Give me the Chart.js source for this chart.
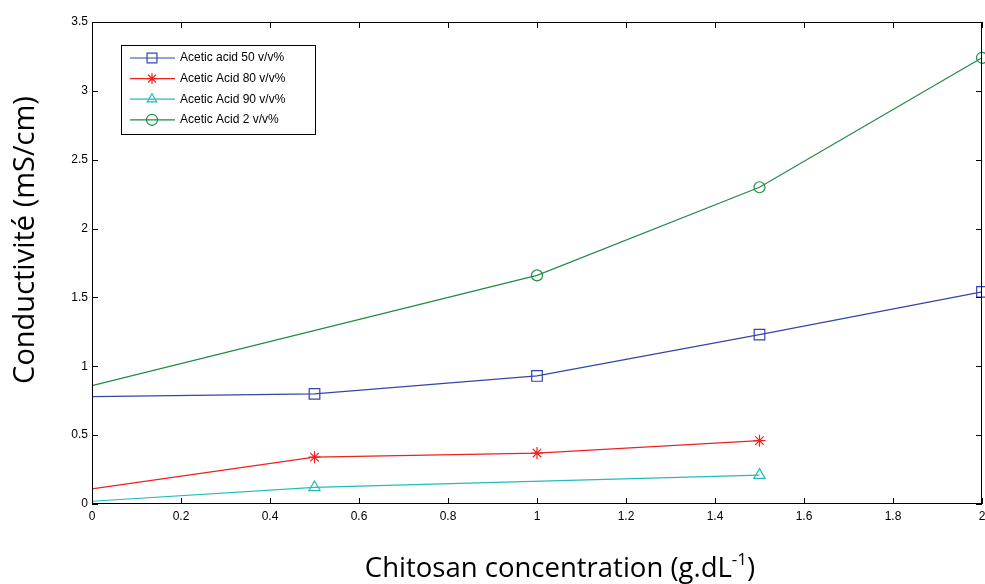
<!DOCTYPE html>
<html>
<head>
<meta charset="utf-8">
<script src="https://cdn.jsdelivr.net/npm/chart.js@4/dist/chart.umd.min.js"></script>
<style>
  html, body { margin: 0; background: #fff; overflow: hidden; }
  #wrap { width: 985px; height: 584px; }
</style>
</head>
<body>
<div id="wrap"><canvas id="c"></canvas></div>
<script>
// tick labels
const xTicks = [0, 0.2, 0.4, 0.6, 0.8, 1, 1.2, 1.4, 1.6, 1.8, 2];
const yTicks = [0, 0.5, 1, 1.5, 2, 2.5, 3, 3.5];

// series (chitosan concentration -> conductivity)
const conc50 = [0, 0.5, 1, 1.5, 2];
const acid50 = [0.78, 0.80, 0.93, 1.23, 1.54];
const conc80 = [0, 0.5, 1, 1.5];
const acid80 = [0.11, 0.34, 0.37, 0.46];
const conc90 = [0, 0.5, 1.5];
const acid90 = [0.02, 0.12, 0.21];
const conc2 = [0, 1, 1.5, 2];
const acid2 = [0.86, 1.66, 2.30, 3.24];

const labels = ["Acetic acid 50 v/v%", "Acetic Acid 80 v/v%", "Acetic Acid 90 v/v%", "Acetic Acid 2 v/v%"];

const pts = (xs, ys) => xs.map((x, i) => ({ x: x, y: ys[i] }));

function series(label, data, color, style, r) {
  return {
    label: label,
    data: data,
    borderColor: color,
    backgroundColor: "rgba(0,0,0,0)",
    borderWidth: 1.2,
    pointStyle: style,
    pointRadius: ctx => (ctx.raw && ctx.raw.x === 0 ? 0 : r),
    pointBorderWidth: 1.2,
    pointBorderColor: color,
    pointBackgroundColor: "rgba(0,0,0,0)",
    tension: 0,
    fill: false,
    clip: false
  };
}

// inward ticks, box, axis titles and legend
const decor = {
  id: "decor",
  afterDatasetsDraw(chart) {
    const { ctx, chartArea: a, scales } = chart;
    ctx.save();
    ctx.strokeStyle = "#000";
    ctx.lineWidth = 1;
    ctx.strokeRect(a.left + 0.5, a.top + 0.5, a.right - a.left - 1, a.bottom - a.top - 1);
    const t = 6;
    ctx.beginPath();
    xTicks.forEach(v => {
      const px = Math.round(scales.x.getPixelForValue(v)) + 0.5;
      ctx.moveTo(px, a.bottom); ctx.lineTo(px, a.bottom - t);
      ctx.moveTo(px, a.top); ctx.lineTo(px, a.top + t);
    });
    yTicks.forEach(v => {
      const py = Math.round(scales.y.getPixelForValue(v)) + 0.5;
      ctx.moveTo(a.left, py); ctx.lineTo(a.left + t, py);
      ctx.moveTo(a.right, py); ctx.lineTo(a.right - t, py);
    });
    ctx.stroke();

    // axis titles
    ctx.fillStyle = "#000";
    ctx.textBaseline = "middle";
    const big = "27.5px 'Open Sans'", small = "17px 'Open Sans'";
    const main = "Chitosan concentration (g.dL";
    const sup = "-1";
    ctx.font = big;
    const w1 = ctx.measureText(main).width;
    const w3 = ctx.measureText(")").width;
    ctx.font = small;
    const w2 = ctx.measureText(sup).width;
    const x0 = 560 - (w1 + w2 + w3) / 2;
    ctx.textAlign = "left";
    ctx.font = big;
    ctx.fillText(main, x0, 569);
    ctx.font = small;
    ctx.fillText(sup, x0 + w1, 560);
    ctx.font = big;
    ctx.fillText(")", x0 + w1 + w2, 569);

    ctx.save();
    ctx.translate(26, 240);
    ctx.rotate(-Math.PI / 2);
    ctx.textAlign = "center";
    ctx.font = "29px 'Open Sans'";
    ctx.fillText("Conductivité (mS/cm)", 0, 0);
    ctx.restore();

    // legend
    const lx = 121, ly = 45, lw = 194, lh = 89;
    ctx.fillStyle = "#fff";
    ctx.fillRect(lx, ly, lw, lh);
    ctx.strokeStyle = "#000";
    ctx.lineWidth = 1;
    ctx.strokeRect(lx + 0.5, ly + 0.5, lw, lh);
    chart.data.datasets.forEach((ds, i) => {
      const y = 58 + i * 20.6;
      ctx.strokeStyle = ds.borderColor;
      ctx.lineWidth = 1.2;
      ctx.beginPath();
      ctx.moveTo(130, y); ctx.lineTo(175, y);
      ctx.stroke();
      ctx.fillStyle = "rgba(255,255,255,0)";
      Chart.helpers.drawPoint(ctx, {
        pointStyle: ds.pointStyle,
        radius: ds.pointStyle === "rect" ? 7 : 5.5,
        rotation: 0,
        borderWidth: 1.2
      }, 152, y);
      ctx.fillStyle = "#000";
      ctx.font = "12px 'Liberation Sans'";
      ctx.textAlign = "left";
      ctx.textBaseline = "middle";
      ctx.fillText(ds.label, 180, y);
    });
    ctx.restore();
  }
};

new Chart(document.getElementById("c"), {
  type: "line",
  data: {
    datasets: [
      series(labels[0], pts(conc50, acid50), "#3545a8", "rect", 7.5),
      series(labels[1], pts(conc80, acid80), "#ee2020", "star", 6),
      series(labels[2], pts(conc90, acid90), "#22bcbc", "triangle", 6.5),
      series(labels[3], pts(conc2, acid2), "#228b45", "circle", 5.5)
    ]
  },
  options: {
    responsive: true,
    maintainAspectRatio: false,
    animation: false,
    events: [],
    layout: { autoPadding: false, padding: { top: 22, right: 3, left: 0, bottom: 0 } },
    plugins: {
      legend: { display: false },
      tooltip: { enabled: false }
    },
    scales: {
      x: {
        type: "linear",
        min: 0,
        max: 2,
        afterBuildTicks: s => { s.ticks = xTicks.map(v => ({ value: v })); },
        afterFit: s => { s.height = 80; s.paddingRight = 0; },
        grid: { drawOnChartArea: false, drawTicks: false },
        border: { display: false },
        ticks: {
          color: "#000",
          padding: 5,
          maxRotation: 0,
          font: { family: "'Liberation Sans'", size: 12 },
          callback: v => String(Math.round(v * 10) / 10)
        }
      },
      y: {
        type: "linear",
        min: 0,
        max: 3.5,
        afterBuildTicks: s => { s.ticks = yTicks.map(v => ({ value: v })); },
        afterFit: s => { s.width = 92; },
        grid: { drawOnChartArea: false, drawTicks: false },
        border: { display: false },
        ticks: {
          color: "#000",
          padding: 4,
          font: { family: "'Liberation Sans'", size: 12 },
          callback: v => String(v)
        }
      }
    }
  },
  plugins: [decor]
});
</script>
</body>
</html>
